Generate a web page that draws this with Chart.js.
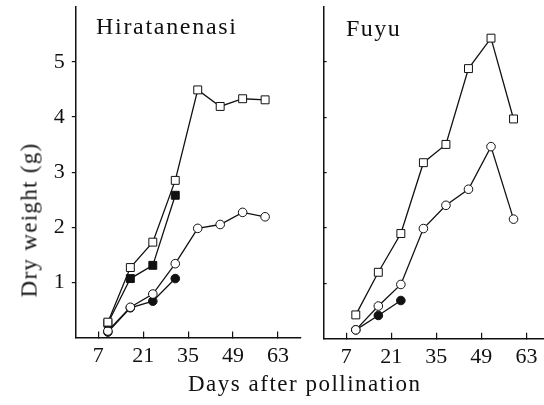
<!DOCTYPE html>
<html>
<head>
<meta charset="utf-8">
<script src="https://cdn.jsdelivr.net/npm/chart.js@4.4.1/dist/chart.umd.min.js"></script>
<style>
  body { margin: 0; background: #fff; }
  #wrap { position: relative; width: 544px; height: 405px; overflow: hidden;
          font-family: "Liberation Serif", "DejaVu Serif", serif; color: #111; }
  .panel { position: absolute; top: 0; height: 405px; }
  .lbl { position: absolute; white-space: nowrap; line-height: 1; }
</style>
</head>
<body>
<div id="wrap">
  <div class="panel" style="left:0;width:310px"><canvas id="hira"></canvas></div>
  <div class="panel" style="left:310px;width:242px"><canvas id="fuyu"></canvas></div>
  <div class="lbl" style="left:96px;top:14px;font-size:24px;letter-spacing:1.7px">Hiratanenasi</div>
  <div class="lbl" style="left:346px;top:16px;font-size:24px;letter-spacing:1.5px">Fuyu</div>
  <div class="lbl" style="left:29px;top:220px;font-size:23px;letter-spacing:1.3px;transform:translate(-50%,-50%) rotate(-90deg)">Dry weight (g)</div>
  <div class="lbl" style="left:188px;top:372px;font-size:23px;letter-spacing:1.5px">Days after pollination</div>
</div>
<script>
// days after pollination
const days = [10, 17, 24, 31, 38, 45, 52, 59];
const hiraEarlyDays = [10, 17, 24, 31];
const fuyuEarlyDays = [10, 17, 24];
const dayTicks = [7, 21, 35, 49, 63];
const weightTicks = [1, 2, 3, 4, 5];

// dry weight (g), Hiratanenasi
const hiraOpenSquare = [0.28, 1.27, 1.73, 2.85, 4.49, 4.19, 4.33, 4.31];
const hiraFilledSquare = [0.26, 1.07, 1.31, 2.58];
const hiraOpenCircle = [0.12, 0.55, 0.79, 1.34, 1.98, 2.05, 2.27, 2.19];
const hiraFilledCircle = [0.1, 0.54, 0.66, 1.07];

// dry weight (g), Fuyu
const fuyuOpenSquare = [0.43, 1.2, 1.9, 3.18, 3.51, 4.88, 5.43, 3.97];
const fuyuOpenCircle = [0.16, 0.59, 0.98, 1.99, 2.41, 2.7, 3.47, 2.16];
const fuyuFilledCircle = [0.16, 0.42, 0.69];

const INK = '#111';
const FONT = { family: '"Liberation Serif", serif', size: 22, lineHeight: 1 };

function series(xs, ys, style, filled) {
    return {
        data: xs.map((x, i) => ({ x, y: ys[i] })),
        showLine: true,
        borderColor: INK,
        borderWidth: 1.3,
        pointStyle: style,
        pointRadius: style === 'rect' ? 5.6 : 4.3,
        pointBackgroundColor: filled ? INK : '#fff',
        pointBorderColor: INK,
        pointBorderWidth: 1,
        clip: false,
    };
}

function panel(canvasId, datasets, cfg) {
    return new Chart(document.getElementById(canvasId), {
        type: 'scatter',
        data: { datasets },
        options: {
            animation: false,
            responsive: true,
            maintainAspectRatio: false,
            events: [],
            layout: { padding: cfg.padding },
            plugins: { legend: { display: false }, tooltip: { enabled: false } },
            scales: {
                x: {
                    type: 'linear',
                    min: 0,
                    max: cfg.xMax,
                    afterBuildTicks: (scale) => { scale.ticks = dayTicks.map((v) => ({ value: v })); },
                    afterFit: (scale) => {
                        scale.height = cfg.xHeight;
                        scale.paddingLeft = 0;
                        scale.paddingRight = 0;
                    },
                    grid: { drawOnChartArea: false, tickLength: -6, color: INK, lineWidth: 1.2 },
                    border: { display: true, color: INK, width: 1.5 },
                    ticks: { color: INK, font: FONT, padding: 14, maxRotation: 0, autoSkip: false },
                },
                y: {
                    type: 'linear',
                    min: 0,
                    max: 6,
                    afterBuildTicks: (scale) => { scale.ticks = weightTicks.map((v) => ({ value: v })); },
                    afterFit: (scale) => {
                        scale.width = cfg.yWidth;
                        scale.paddingTop = 0;
                        scale.paddingBottom = 0;
                    },
                    grid: { drawOnChartArea: false, tickLength: cfg.yTick, color: INK, lineWidth: 1.2 },
                    border: { display: true, color: INK, width: 1.5 },
                    ticks: { display: cfg.yLabels, color: INK, font: FONT, padding: 7 },
                },
            },
        },
    });
}

panel('hira', [
    series(days, hiraOpenSquare, 'rect', false),
    series(hiraEarlyDays, hiraFilledSquare, 'rect', true),
    series(days, hiraOpenCircle, 'circle', false),
    series(hiraEarlyDays, hiraFilledCircle, 'circle', true),
], { padding: { top: 5.8, right: 9.6, bottom: 0, left: 0 }, xMax: 70, xHeight: 67.4, yWidth: 75.8, yTick: 4, yLabels: true });

panel('fuyu', [
    series(days, fuyuOpenSquare, 'rect', false),
    series(days, fuyuOpenCircle, 'circle', false),
    series(fuyuEarlyDays, fuyuFilledCircle, 'circle', true),
], { padding: { top: 6.3, right: 0, bottom: 0, left: 0 }, xMax: 68.9, xHeight: 66.3, yWidth: 13.6, yTick: -3, yLabels: false });
</script>
</body>
</html>
